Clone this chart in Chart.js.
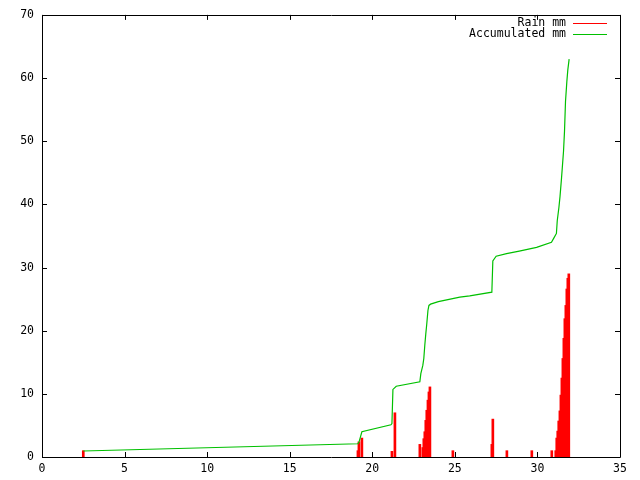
<!DOCTYPE html>
<html>
<head>
<meta charset="utf-8">
<script src="https://cdn.jsdelivr.net/npm/chart.js"></script>
<style>
	body { margin: 0; background: #fff; }
	#box { width: 640px; height: 480px; }
</style>
</head>
<body>
<div id="box"><canvas id="Lluvia"></canvas></div>
<script>
	// rain per reading (impulses)
	var rainX = [2.5, 19.13, 19.19, 19.37, 21.19, 21.37, 22.88,
		23.06, 23.12, 23.18, 23.24, 23.30, 23.37, 23.43, 23.49,
		24.88, 27.24, 27.30, 28.15, 29.66, 30.87,
		31.11, 31.17, 31.23, 31.29, 31.36, 31.42, 31.48, 31.54, 31.60, 31.66, 31.72, 31.78, 31.84, 31.90];
	var rainY = [1.0, 1.0, 2.4, 3.0, 0.9, 7.0, 2.0,
		1.5, 2.9, 4.0, 5.8, 7.4, 9.0, 10.3, 11.1,
		1.0, 2.0, 6.0, 1.0, 1.0, 1.0,
		1.0, 3.0, 4.1, 5.7, 7.3, 9.8, 12.5, 15.6, 18.8, 21.9, 24.0, 26.6, 28.3, 29.0];

	// accumulated total
	var accX = [2.5, 19.13, 19.2, 19.37, 21.13, 21.19, 21.25, 21.45, 22.88,
		22.94, 23.06, 23.12, 23.18, 23.24, 23.30, 23.37, 23.43, 23.53, 24.0, 25.3, 25.9,
		27.24, 27.30, 27.5, 28.13, 28.9, 29.95, 30.85, 31.0, 31.15, 31.2, 31.3, 31.37,
		31.46, 31.52, 31.58, 31.64, 31.70, 31.78, 31.84, 31.92];
	var accY = [0.95, 2.1, 2.4, 4.0, 5.1, 5.3, 10.7, 11.2, 11.9,
		13.2, 14.5, 15.6, 17.7, 19.5, 21.1, 23.2, 24.0, 24.2, 24.6, 25.3, 25.5,
		26.1, 31.06, 31.8, 32.2, 32.6, 33.2, 34.0, 34.7, 35.4, 37.4, 39.5, 41.3,
		44.2, 46.3, 48.4, 51.6, 56.3, 59.4, 61.3, 63.0];

	var etiquetas = ["Rain mm", "Accumulated mm"];
	var fuente = "'DejaVu Sans Mono', monospace";

	function puntos(xs, ys) {
		return xs.map(function (x, i) { return { x: x, y: ys[i] }; });
	}

	// gnuplot style frame with inward ticks on all four sides
	var marco = {
		id: 'marco',
		afterDraw: function (chart) {
			var c = chart.ctx, a = chart.chartArea;
			var sx = chart.scales.x, sy = chart.scales.y;
			c.save();
			c.strokeStyle = '#000';
			c.lineWidth = 1;
			c.beginPath();
			c.rect(Math.round(a.left) + 0.5, Math.round(a.top) + 0.5,
				Math.round(a.right - a.left), Math.round(a.bottom - a.top));
			sx.ticks.forEach(function (t) {
				var px = Math.round(sx.getPixelForValue(t.value)) + 0.5;
				c.moveTo(px, a.bottom); c.lineTo(px, a.bottom - 5);
				c.moveTo(px, a.top); c.lineTo(px, a.top + 5);
			});
			sy.ticks.forEach(function (t) {
				var py = Math.round(sy.getPixelForValue(t.value)) + 0.5;
				c.moveTo(a.left, py); c.lineTo(a.left + 5, py);
				c.moveTo(a.right, py); c.lineTo(a.right - 5, py);
			});
			c.stroke();

			// key, text then sample line
			c.font = '11.5px ' + fuente;
			c.fillStyle = '#000';
			c.textAlign = 'right';
			c.textBaseline = 'middle';
			chart.data.datasets.forEach(function (d, i) {
				var y = 23 + i * 11;
				c.fillText(d.label, 566, y);
				c.beginPath();
				c.strokeStyle = d.borderColor;
				c.moveTo(573, y + 0.5); c.lineTo(607, y + 0.5);
				c.stroke();
			});
			c.restore();
		}
	};

	var ctx = document.getElementById('Lluvia').getContext('2d');
	var grafica = new Chart(ctx, {
		type: 'bar',
		data: {
			datasets: [{
				label: etiquetas[0],
				data: puntos(rainX, rainY),
				backgroundColor: 'rgb(255,0,0)',
				borderColor: 'rgb(255,0,0)',
				barThickness: 2,
				order: 1
			}, {
				type: 'line',
				label: etiquetas[1],
				data: puntos(accX, accY),
				borderColor: 'rgb(0,192,0)',
				backgroundColor: 'rgb(0,192,0)',
				borderWidth: 1.2,
				pointRadius: 0,
				tension: 0,
				fill: false,
				order: 0
			}]
		},
		options: {
			responsive: true,
			maintainAspectRatio: false,
			animation: false,
			layout: { padding: { left: 0, top: 13, right: 20, bottom: 0 } },
			plugins: { legend: { display: false }, tooltip: { enabled: false } },
			scales: {
				x: {
					type: 'linear', min: 0, max: 35, offset: false,
					grid: { display: false, drawTicks: false },
					border: { display: false },
					ticks: { stepSize: 5, padding: 5, color: '#000', maxRotation: 0,
						font: { family: fuente, size: 11.5 } },
					afterFit: function (s) { s.height = 23; }
				},
				y: {
					min: 0, max: 70,
					grid: { display: false, drawTicks: false },
					border: { display: false },
					ticks: { stepSize: 10, padding: 8, color: '#000',
						font: { family: fuente, size: 11.5 } },
					afterFit: function (s) { s.width = 42; }
				}
			}
		},
		plugins: [marco]
	});
</script>
</body>
</html>
